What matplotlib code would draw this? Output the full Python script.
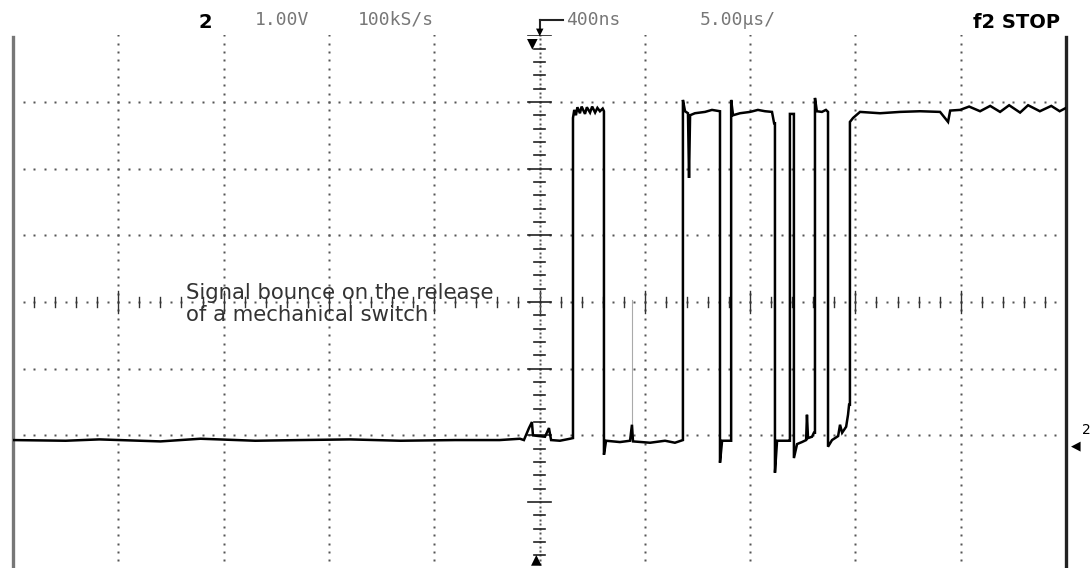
"""
Signal bounce on the release of a mechanical switch (scope capture)
"""
import matplotlib
matplotlib.use("Agg")
import matplotlib.pyplot as plt
import numpy as np

# trace: time in us (5 us/div), voltage in V (1 V/div)
t_us = [
    -25.0, -22.5, -20.9, -18.0, -16.1, -13.5, -11.4, -9.0, -6.6, -4.0, -1.9, -0.93,
    -0.74, -0.50, -0.36, -0.31, 0.26, 0.45, 0.55, 0.97, 1.45, 1.59,
    1.59, 1.65, 1.73, 1.80, 1.92, 2.00, 2.16, 2.25, 2.40, 2.50, 2.64, 2.75, 2.87, 3.00, 3.06,
    3.06, 3.16, 3.82, 4.30, 4.39, 4.44, 5.25, 5.96, 6.43, 6.81,
    6.81, 6.91, 7.05, 7.10, 7.15, 7.38, 7.86, 8.19, 8.57,
    8.57, 8.67, 9.10,
    9.10, 9.19, 9.52, 10.00, 10.37, 10.71, 11.04, 11.14, 11.18,
    11.18, 11.28, 11.85, 11.89,
    11.89, 12.04, 12.08,
    12.08, 12.23, 12.46, 12.66, 12.70, 12.75, 12.94, 13.03, 13.08,
    13.08, 13.17, 13.41, 13.60, 13.70,
    13.70, 13.89, 14.18, 14.27, 14.37, 14.56, 14.65, 14.70, 14.74,
    14.74, 14.89, 15.22, 16.17, 17.12, 18.07, 19.02, 19.40, 19.50, 19.97, 20.40,
    20.92, 21.40, 21.87, 22.30, 22.82, 23.20, 23.76, 24.30, 24.70, 25.0,
]
v_volts = [
    -0.07, -0.08, -0.06, -0.09, -0.05, -0.08, -0.07, -0.06, -0.08, -0.07, -0.07, -0.05,
    -0.07, 0.11, 0.20, 0.00, -0.02, 0.11, -0.07, -0.08, -0.05, -0.04,
    4.76, 4.88, 4.80, 4.92, 4.83, 4.93, 4.82, 4.92, 4.84, 4.93, 4.84, 4.91, 4.86, 4.90, 4.86,
    -0.29, -0.08, -0.10, -0.08, 0.16, -0.09, -0.11, -0.08, -0.11, -0.07,
    5.03, 4.86, 4.83, 3.86, 4.80, 4.83, 4.85, 4.88, 4.86,
    -0.41, -0.08, -0.08,
    5.03, 4.80, 4.83, 4.85, 4.88, 4.86, 4.85, 4.68, 4.68,
    -0.56, -0.08, -0.08, -0.08,
    4.82, 4.82, 4.82,
    -0.34, -0.13, -0.10, -0.07, 0.31, -0.04, -0.02, 0.04, 0.04,
    5.06, 4.86, 4.85, 4.88, 4.85,
    -0.17, -0.07, -0.01, 0.16, 0.04, 0.13, 0.31, 0.46, 0.46,
    4.70, 4.76, 4.85, 4.83, 4.85, 4.86, 4.85, 4.70, 4.87, 4.88, 4.93,
    4.86, 4.94, 4.85, 4.95, 4.84, 4.95, 4.86, 4.94, 4.86, 4.91,
]
# faint glitch trace
glitch_t = [4.39, 4.39]
glitch_v = [2.03, -0.07]

# header readouts
ch_label = "2"
volts_div = "1.00V"
sample_rate = "100kS/s"
trig_delay = "400ns"
time_div = "5.00µs/"
status = "f2 STOP"
note = "Signal bounce on the release\nof a mechanical switch"

W, H = 1092, 568
fig = plt.figure(figsize=(W / 100, H / 100), dpi=100)
ax = fig.add_axes([13 / W, -0.8 / H, 1053 / W, 533.6 / H])
ax.set_xlim(-25, 25)
ax.set_ylim(-2, 6)
ax.axis("off")

dot = dict(ls="none", marker="s", ms=1.5, color="#555", mec="none")

# graticule rows and columns
xs = np.arange(-25, 25.01, 0.5)
for v in [0, 1, 3, 4, 5]:
    ax.plot(xs, np.full_like(xs, v), **dot)
ys = np.arange(-2, 6.01, 0.125)
for t in [-20, -15, -10, -5, 5, 10, 15, 20]:
    ax.plot(np.full_like(ys, t), ys, **dot)

# centre horizontal axis with ticks
ax.plot(xs, np.full_like(xs, 2), **dot)
for t in np.arange(-25, 25.01, 1.0):
    h = 0.16 if t % 5 == 0 else 0.07
    ax.plot([t, t], [2 - h, 2 + h], color="#333", lw=1.0)
# centre vertical axis with ticks
yc = np.arange(-2, 6.01, 0.0667)
ax.plot(np.zeros_like(yc), yc, **dot)
for v in np.arange(-2, 6.01, 0.2):
    w = 0.55 if abs(v - round(v)) < 1e-6 else 0.24
    ax.plot([-w, w], [v, v], color="#222", lw=1.2)

# screen borders
ax.plot([-25, -25], [-2, 5.98], color="#777", lw=2.4, clip_on=False)
ax.plot([25, 25], [-2, 5.98], color="#222", lw=2.4, clip_on=False)

# traces
ax.plot(glitch_t, glitch_v, color="#aaa", lw=0.8)
ax.plot(t_us, v_volts, color="black", lw=1.8, solid_joinstyle="miter")

# header
def px(x, y):
    return x / W, 1 - y / H

lcd = dict(family="DejaVu Sans Mono", color="#777", fontsize=13, va="center")
fig.text(*px(198, 22), ch_label, fontsize=14, weight="bold", va="center")
fig.text(*px(255, 20), volts_div, **lcd)
fig.text(*px(358, 20), sample_rate, **lcd)
fig.text(*px(566, 20), trig_delay, **lcd)
fig.text(*px(700, 20), time_div, **lcd)
fig.text(*px(1060, 22), status, fontsize=14, weight="bold", va="center", ha="right")
fig.add_artist(plt.Line2D([540 / W, 563 / W], [1 - 20 / H, 1 - 20 / H], color="#222", lw=1.5))
fig.add_artist(plt.Line2D([540 / W, 540 / W], [1 - 20 / H, 1 - 29 / H], color="#222", lw=1.5))
fig.text(*px(540, 32), "▼", fontsize=7, ha="center", va="center")
fig.text(*px(532, 43), "▼", fontsize=10, ha="center", va="center")
fig.text(*px(536, 559), "▲", fontsize=10, ha="center", va="center")
fig.text(*px(1086, 430), "2", fontsize=10, ha="center", va="center")
fig.text(*px(1076, 446), "◀", fontsize=9, ha="center", va="center")

# annotation
fig.text(*px(186, 283), note, fontsize=15.3, color="#333", va="top", linespacing=1.1)

fig.savefig("out.png", dpi=100)
